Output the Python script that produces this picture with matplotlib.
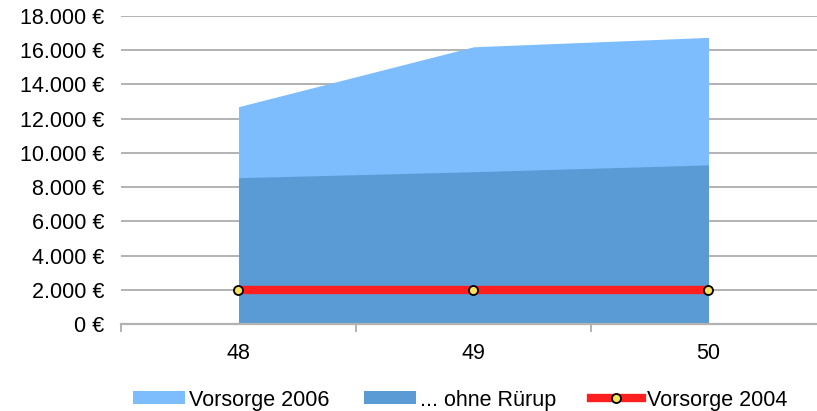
import matplotlib
matplotlib.use("Agg")
import matplotlib.pyplot as plt
from matplotlib.ticker import FuncFormatter, FixedLocator
from matplotlib.patches import Patch
from matplotlib.lines import Line2D

# ── Data ─────────────────────────────────────────────────────────────────────
ages       = ["48", "49", "50"]
vorsorge06 = [12700, 16200, 16750]
ohne_rurup = [8550, 8900, 9300]
vorsorge04 = [2000, 2000, 2000]

LIGHT = "#7dbdfd"
DARK  = "#5b9bd5"
RED   = "#ff1f1f"
GRID  = "#b2b2b2"

plt.rcParams["font.family"] = ["Liberation Sans", "DejaVu Sans"]
plt.rcParams["font.size"] = 15.5

fig = plt.figure(figsize=(8.17, 4.11), dpi=100)
W, H = 817, 411
# plot area runs slightly past the right edge of the figure
ax = fig.add_axes([121 / W, 1 - 324 / H, 705 / W, 308 / H])

x = list(range(len(ages)))
ax.fill_between(x, 0, vorsorge06, color=LIGHT, lw=0, zorder=2)
ax.fill_between(x, 0, ohne_rurup, color=DARK, lw=0, zorder=3)
ax.plot(x, vorsorge04, color=RED, lw=6, solid_capstyle="butt", zorder=4)
ax.plot(x, vorsorge04, ls="none", marker="o", ms=6.5, mfc="#f8e45c",
        mec="black", mew=1.3, zorder=5)

ax.set_xlim(-0.5, len(ages) - 0.5)
ax.set_ylim(0, 18000)
ax.set_yticks(range(0, 18001, 2000))
ax.yaxis.set_major_formatter(FuncFormatter(lambda v, _: f"{int(v):,} €".replace(",", ".")))
ax.set_xticks(x)
ax.set_xticklabels(ages)
ax.xaxis.set_minor_locator(FixedLocator([i - 0.5 for i in range(len(ages) + 1)]))
ax.tick_params(axis="x", which="major", length=0, pad=14)
ax.tick_params(axis="x", which="minor", length=6, width=1.4, color=GRID, direction="out")
ax.tick_params(axis="y", length=0, pad=12)

ax.grid(axis="y", color=GRID, lw=1.4, zorder=1)
ax.set_axisbelow(True)
for s in ["top", "right", "left"]:
    ax.spines[s].set_visible(False)
ax.spines["bottom"].set_color(GRID)
ax.spines["bottom"].set_linewidth(1.6)
ax.spines["bottom"].set_zorder(6)

handles = [
    Patch(facecolor=LIGHT, edgecolor="none", label="Vorsorge 2006"),
    Patch(facecolor=DARK, edgecolor="none", label="... ohne Rürup"),
    Line2D([], [], color=RED, lw=6, marker="o", ms=6.5, mfc="#f8e45c",
           mec="black", mew=1.3, label="Vorsorge 2004"),
]
fig.legend(handles=handles, loc="center", bbox_to_anchor=(460 / W, 1 - 400 / H),
           ncol=3, frameon=False, handlelength=2.4, handleheight=0.55,
           handletextpad=0.2, columnspacing=1.6, borderaxespad=0)

fig.savefig("out.png", dpi=100)
